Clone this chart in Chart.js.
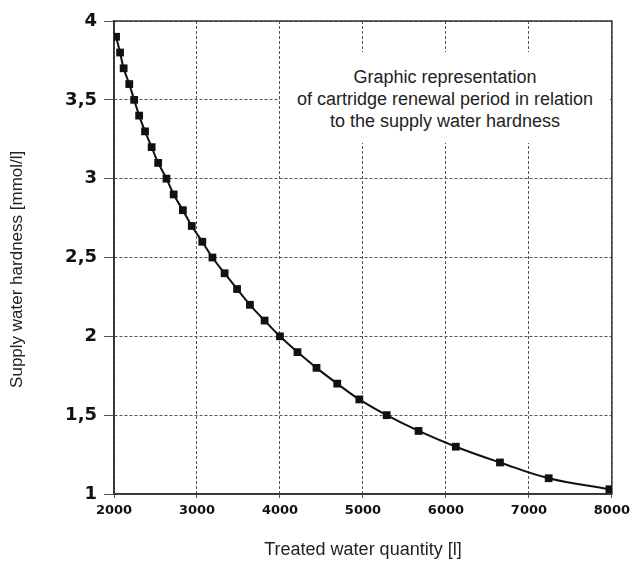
<!DOCTYPE html>
<html>
<head>
<meta charset="utf-8">
<script src="https://cdn.jsdelivr.net/npm/chart.js"></script>
<style>
  body { margin: 0; background: #fff; }
  #wrap { position: relative; width: 635px; height: 563px; }
  #note {
    position: absolute; left: 280px; top: 52px; width: 330px; height: 91px;
    background: #fff; color: #222; text-align: center;
    font: 18px "Liberation Sans", Arial, sans-serif; line-height: 22px;
    box-sizing: border-box; padding-top: 14px; white-space: nowrap;
  }
</style>
</head>
<body>
<div id="wrap">
  <canvas id="chart" width="635" height="563"></canvas>
  <div id="note">Graphic representation<br>of cartridge renewal period in relation<br>to the supply water hardness</div>
</div>
<script>
// treated quantity [l] vs supply hardness [mmol/l]
var quantity = [2025, 2073, 2116, 2184, 2243, 2303, 2374, 2454, 2532, 2632, 2719, 2830, 2937, 3064, 3186, 3333, 3483, 3638, 3815, 4000, 4211, 4440, 4690, 4956, 5286, 5670, 6119, 6651, 7238, 7970];
var hardness = [3.9, 3.8, 3.7, 3.6, 3.5, 3.4, 3.3, 3.2, 3.1, 3.0, 2.9, 2.8, 2.7, 2.6, 2.5, 2.4, 2.3, 2.2, 2.1, 2.0, 1.9, 1.8, 1.7, 1.6, 1.5, 1.4, 1.3, 1.2, 1.1, 1.03];
var xTicks = [2000, 3000, 4000, 5000, 6000, 7000, 8000];
var yTicks = [1, 1.5, 2, 2.5, 3, 3.5, 4];

var points = [];
for (var i = 0; i < quantity.length; i++) {
    points.push({ x: quantity[i], y: hardness[i] });
}

// solid frame round the plot area
var frame = {
    id: 'frame',
    beforeDatasetsDraw: function (chart) {
        var a = chart.chartArea;
        var ctx = chart.ctx;
        ctx.save();
        ctx.strokeStyle = '#333';
        ctx.lineWidth = 1.5;
        ctx.strokeRect(a.left, a.top, a.right - a.left, a.bottom - a.top);
        ctx.restore();
    }
};

var ctx = document.getElementById('chart').getContext('2d');
var chart = new Chart(ctx, {
    type: 'line',
    data: {
        datasets: [{
            data: points,
            borderColor: '#111',
            backgroundColor: '#111',
            borderWidth: 2,
            tension: 0.4,
            pointStyle: 'rect',
            pointRadius: 5.5,
            pointBorderWidth: 0
        }]
    },
    options: {
        responsive: false,
        animation: false,
        layout: { padding: { top: 21, right: 16, left: 0, bottom: 0 } },
        plugins: { legend: { display: false }, tooltip: { enabled: false } },
        scales: {
            x: {
                type: 'linear',
                min: 2000, max: 8000,
                afterFit: function (s) { s.height = 69; },
                afterBuildTicks: function (s) { s.ticks = xTicks.map(function (v) { return { value: v }; }); },
                grid: { color: '#555', tickLength: 4 },
                border: { display: true, color: '#333', width: 1.5, dash: [3, 2] },
                ticks: {
                    padding: 5,
                    color: '#111',
                    font: { family: 'DejaVu Sans', weight: 'bold', size: 13 },
                    callback: function (v) { return String(v); }
                },
                title: {
                    display: true,
                    text: 'Treated water quantity [l]',
                    color: '#222',
                    font: { family: 'Liberation Sans', size: 18 },
                    padding: { top: 0, bottom: 2 }
                }
            },
            y: {
                min: 1, max: 4,
                afterFit: function (s) { s.width = 114; },
                afterBuildTicks: function (s) { s.ticks = yTicks.map(function (v) { return { value: v }; }); },
                grid: { color: '#555', tickLength: 10 },
                border: { display: true, color: '#333', width: 1.5, dash: [3, 2] },
                ticks: {
                    padding: 7,
                    color: '#111',
                    font: { family: 'DejaVu Sans', weight: 'bold', size: 18 },
                    callback: function (v) { return String(v).replace('.', ','); }
                },
                title: {
                    display: true,
                    // trailing nbsp pushes the label a bit lower, like the original
                    text: 'Supply water hardness [mmol/l]\u00a0\u00a0\u00a0\u00a0\u00a0',
                    color: '#222',
                    font: { family: 'Liberation Sans', size: 17 },
                    padding: { top: 7, bottom: 0 }
                }
            }
        }
    },
    plugins: [frame]
});
</script>
</body>
</html>
